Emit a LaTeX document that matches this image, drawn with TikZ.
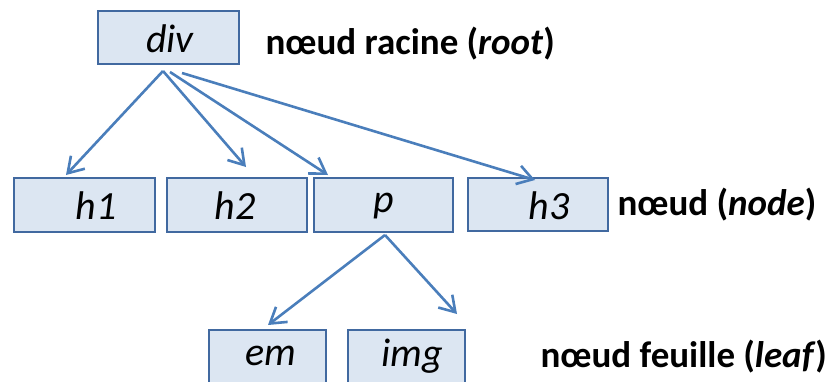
\documentclass[tikz,border=0pt]{standalone}
\usepackage{fontspec}
\setmainfont{Carlito}
\usetikzlibrary{arrows.meta}
\definecolor{edgeblue}{RGB}{74,126,187}
\definecolor{boxfill}{RGB}{220,230,242}
\definecolor{boxline}{RGB}{65,105,160}
\tikzset{
  tag/.style={draw=boxline, line width=2.5pt, fill=boxfill, inner sep=0pt},
  tagtext/.style={font=\fontsize{40}{40}\selectfont\itshape},
  note/.style={font=\fontsize{37}{37}\selectfont\bfseries, anchor=west},
  link/.style={draw=edgeblue, line width=2.6pt,
    -{Straight Barb[length=15pt,width=19pt,line width=2.6pt]}},
}
\begin{document}
\begin{tikzpicture}[x=1pt,y=-1pt]
\useasboundingbox (0,0) rectangle (828,381);
\clip (0,0) rectangle (828,381);
% element boxes
\draw[tag] (98,11) rectangle (239,64);
\node[tagtext] (div) at (170,39) {div};
\draw[tag] (14,178) rectangle (155,232);
\node[tagtext] (h1) at (96,206) {h1};
\draw[tag] (167,178) rectangle (307,232);
\node[tagtext] (h2) at (235,206) {h2};
\draw[tag] (314,178) rectangle (453,232);
\node[tagtext] (p) at (384,206) {p};
\draw[tag] (468,178) rectangle (608,231);
\node[tagtext] (h3) at (549,206) {h3};
\draw[tag] (209,330) rectangle (326,400);
\node[tagtext] (em) at (271,356) {em};
\draw[tag] (348,330) rectangle (465,400);
\node[tagtext] (img) at (412,356) {img};
% anchor points for connectors
\coordinate (d1) at (163,71);
\coordinate (d2) at (170,72);
\coordinate (d3) at (182,73);
\coordinate (ps) at (385,235);
\coordinate (t1) at (66,175);
\coordinate (t2) at (246,167);
\coordinate (t3) at (328,175);
\coordinate (t4) at (535,180);
\coordinate (t5) at (268,325);
\coordinate (t6) at (457,314);
\draw[link] (d1) -- (t1);
\draw[link] (d1) -- (t2);
\draw[link] (d2) -- (t3);
\draw[link] (d3) -- (t4);
\draw[link] (ps) -- (t5);
\draw[link] (ps) -- (t6);
% level captions
\node[note] (lroot) at (262,44) {nœud racine (\textit{root})};
\node[note] (lnode) at (614,205) {nœud (\textit{node})};
\node[note] (lleaf) at (537,357) {nœud feuille (\textit{leaf})};
\end{tikzpicture}
\end{document}
